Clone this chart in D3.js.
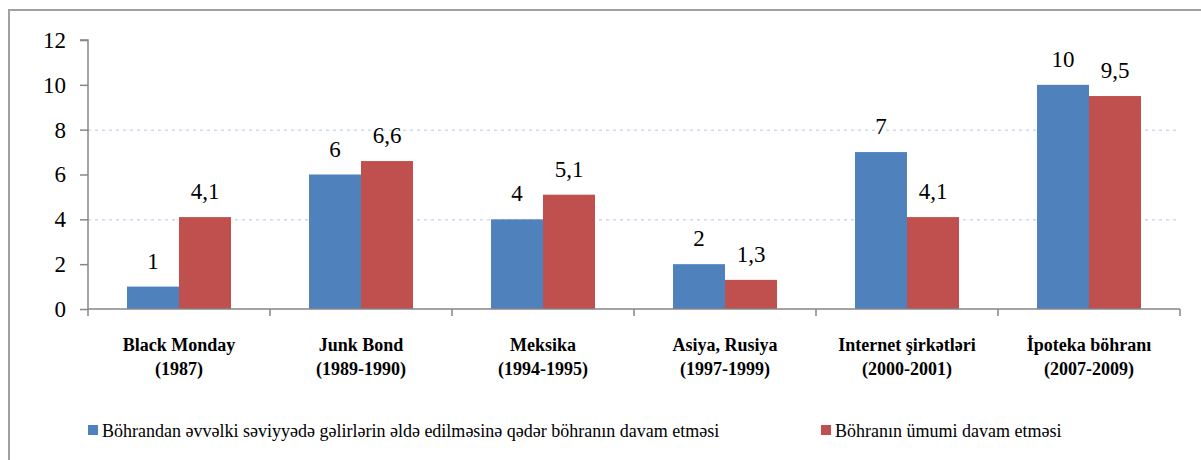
<!DOCTYPE html>
<html>
<head>
<meta charset="utf-8">
<script src="https://cdn.jsdelivr.net/npm/d3@7"></script>
<style>
  body { margin: 0; background: #fff; }
</style>
</head>
<body>
<script>
var categories = [
  ["Black Monday", "(1987)"],
  ["Junk Bond", "(1989-1990)"],
  ["Meksika", "(1994-1995)"],
  ["Asiya, Rusiya", "(1997-1999)"],
  ["Internet şirkətləri", "(2000-2001)"],
  ["İpoteka böhranı", "(2007-2009)"]
];
var seriesNames = [
  "Böhrandan əvvəlki səviyyədə gəlirlərin əldə edilməsinə qədər böhranın davam etməsi",
  "Böhranın ümumi davam etməsi"
];
var recoveryYears = [1, 6, 4, 2, 7, 10];
var totalYears = [4.1, 6.6, 5.1, 1.3, 4.1, 9.5];
var yTicks = [0, 2, 4, 6, 8, 10, 12];
var gridTicks = [4, 8];
var colors = ["#4f81bd", "#c0504d"];

var svgWidth = 1201, svgHeight = 460;
var plotLeft = 88, plotRight = 1180, plotTop = 40, plotBottom = 309;
var serif = "Times New Roman, Liberation Serif, Tinos, serif";

var svg = d3.select("body").append("svg")
  .attr("width", svgWidth).attr("height", svgHeight)
  .attr("font-family", serif);

// outer frame (right and bottom edges fall outside the picture)
svg.append("rect")
  .attr("x", 9).attr("y", 10)
  .attr("width", 1300).attr("height", 600)
  .attr("fill", "none").attr("stroke", "#a0a0a0").attr("stroke-width", 2);

var x0 = d3.scaleBand().domain(d3.range(categories.length)).range([plotLeft, plotRight]);
var y = d3.scaleLinear().domain([0, 12]).range([plotBottom, plotTop]);
var bandW = x0.bandwidth();
var barW = 52;

// gridlines
svg.selectAll(".grid").data(gridTicks).enter()
  .append("line")
  .attr("x1", plotLeft).attr("x2", plotRight)
  .attr("y1", function(d){ return y(d) + 0.5; })
  .attr("y2", function(d){ return y(d) + 0.5; })
  .attr("stroke", "#b4c6e7")
  .attr("stroke-width", 1)
  .attr("stroke-dasharray", "3,4");

// bars
var series = [recoveryYears, totalYears];
series.forEach(function(vals, s){
  svg.selectAll(".bar" + s).data(vals).enter()
    .append("rect")
    .attr("x", function(d, i){ return x0(i) + bandW / 2 - barW + s * barW; })
    .attr("y", function(d){ return y(d); })
    .attr("width", barW)
    .attr("height", function(d){ return y(0) - y(d); })
    .attr("fill", colors[s]);

  svg.selectAll(".lbl" + s).data(vals).enter()
    .append("text")
    .attr("x", function(d, i){ return x0(i) + bandW / 2 - barW / 2 + s * barW; })
    .attr("y", function(d){ return y(d) - 18; })
    .attr("text-anchor", "middle")
    .attr("font-family", serif)
    .attr("font-size", "23px")
    .attr("fill", "#000")
    .text(function(d){ return String(d).replace(".", ","); });
});

// y axis
var yAxis = d3.axisLeft(y).tickValues(yTicks).tickSize(8).tickPadding(14);
var gy = svg.append("g").attr("transform", "translate(" + plotLeft + ",0)").call(yAxis)
  .attr("font-family", serif).attr("font-size", "23px");
gy.selectAll("path, line").attr("stroke", "#868686").attr("stroke-width", 1.5);
gy.select(".domain").attr("d", "M-8," + plotTop + "H0V" + plotBottom);
gy.selectAll("text").attr("fill", "#000").attr("font-family", serif);

// x axis
var gx = svg.append("g").attr("transform", "translate(0," + plotBottom + ")");
gx.append("line").attr("x1", plotLeft).attr("x2", plotRight).attr("y1", 0).attr("y2", 0)
  .attr("stroke", "#868686").attr("stroke-width", 1.5);
gx.selectAll(".xt").data(d3.range(categories.length + 1)).enter()
  .append("line")
  .attr("x1", function(d){ return plotLeft + d * bandW; })
  .attr("x2", function(d){ return plotLeft + d * bandW; })
  .attr("y1", 0).attr("y2", 7)
  .attr("stroke", "#868686").attr("stroke-width", 1.5);

var cat = svg.selectAll(".cat").data(categories).enter()
  .append("text")
  .attr("text-anchor", "middle")
  .attr("font-family", serif)
  .attr("font-size", "18px")
  .attr("font-weight", "bold")
  .attr("fill", "#000");
cat.append("tspan")
  .attr("x", function(d, i){ return x0(i) + bandW / 2; })
  .attr("y", 351)
  .text(function(d){ return d[0]; });
cat.append("tspan")
  .attr("x", function(d, i){ return x0(i) + bandW / 2; })
  .attr("y", 375)
  .text(function(d){ return d[1]; });

// legend
var legendX = [88, 821];
seriesNames.forEach(function(name, s){
  svg.append("rect")
    .attr("x", legendX[s]).attr("y", 425)
    .attr("width", 10).attr("height", 10)
    .attr("fill", colors[s]);
  svg.append("text")
    .attr("x", legendX[s] + 14).attr("y", 437)
    .attr("font-family", serif)
    .attr("font-size", "18px")
    .attr("fill", "#000")
    .text(name);
});
</script>
</body>
</html>
